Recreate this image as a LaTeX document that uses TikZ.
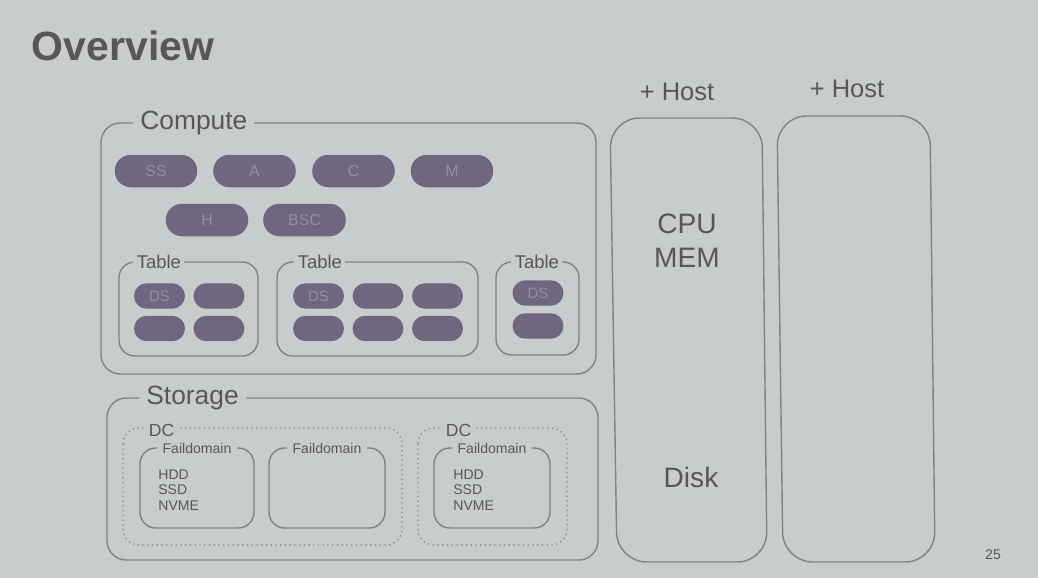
\documentclass[tikz,border=0pt]{standalone}
\usepackage{fontspec}
\setmainfont{Liberation Sans}
\usetikzlibrary{shapes.misc}

\definecolor{slidebg}{RGB}{201,204,205}
\definecolor{framegray}{RGB}{130,130,130}
\definecolor{textgray}{RGB}{88,86,86}
\definecolor{pillfill}{RGB}{111,102,128}
\definecolor{pilltext}{RGB}{150,142,164}

\tikzset{
  frame/.style={draw=framegray, line width=0.8pt, rounded corners=11pt},
  dcframe/.style={draw=framegray, line width=0.7pt, dotted, rounded corners=9pt},
  boxlabel/.style={fill=slidebg, text=textgray, inner xsep=4pt, inner ysep=1pt},
  pill/.style={rounded rectangle, fill=pillfill, text=pilltext, minimum width=47pt,
    minimum height=18.5pt, inner sep=0pt, font=\fontsize{9}{10}\selectfont},
  dspill/.style={pill, minimum width=29pt, minimum height=14.5pt,
    font=\fontsize{8.5}{10}\selectfont},
}

\begin{document}
\begin{tikzpicture}[x=0.02cm, y=-0.02cm]
    % Slide
    \fill [slidebg] (0,0) rectangle (1038,578);
    \useasboundingbox (0,0) rectangle (1038,578);
    \node [text=textgray, font=\fontsize{23.3}{27}\selectfont\bfseries] (title) at (123,46) {Overview};

    % Compute
    \draw [frame] (101,123) rectangle (596,374);
    \node [boxlabel, anchor=west, font=\fontsize{15}{18}\selectfont] (lcompute) at (133,123) {Compute};

    \node [pill] (ss) at (156,171) {SS};
    \node [pill] (a) at (254.5,171) {A};
    \node [pill] (c) at (353.5,171) {C};
    \node [pill] (m) at (452,171) {M};
    \node [pill] (h) at (207,220) {H};
    \node [pill] (bsc) at (304.5,220) {BSC};

    \draw [frame, rounded corners=9pt] (119,262) rectangle (258,356);
    \draw [frame, rounded corners=9pt] (277,262) rectangle (478,356);
    \draw [frame, rounded corners=9pt] (496,262) rectangle (579,355);
    \node [boxlabel, anchor=west, inner xsep=2pt, font=\fontsize{10.5}{12}\selectfont] (ltablea) at (133,262) {Table};
    \node [boxlabel, anchor=west, inner xsep=2pt, font=\fontsize{10.5}{12}\selectfont] (ltableb) at (294,262) {Table};
    \node [boxlabel, anchor=west, inner xsep=2pt, font=\fontsize{10.5}{12}\selectfont] (ltablec) at (511,262) {Table};

    \node [dspill] (dsa) at (159.5,296) {DS};
    \node [dspill] (ta2) at (219,296) {};
    \node [dspill] (ta3) at (159.5,328.5) {};
    \node [dspill] (ta4) at (219,328.5) {};
    \node [dspill] (dsb) at (318.5,296) {DS};
    \node [dspill] (tb2) at (378,296) {};
    \node [dspill] (tb3) at (437.5,296) {};
    \node [dspill] (tb4) at (318.5,328.5) {};
    \node [dspill] (tb5) at (378,328.5) {};
    \node [dspill] (tb6) at (437.5,328.5) {};
    \node [dspill] (dsc) at (538,293) {DS};
    \node [dspill] (tc2) at (538,326) {};

    % Storage
    \draw [frame] (107,398) rectangle (598,560);
    \node [boxlabel, anchor=west, font=\fontsize{15}{18}\selectfont] (lstorage) at (139,398) {Storage};

    \draw [dcframe] (123,428) rectangle (402,545);
    \draw [dcframe] (418,428) rectangle (567,545);
    \node [boxlabel, anchor=west, inner xsep=2pt, font=\fontsize{10}{12}\selectfont] (ldca) at (145,430) {DC};
    \node [boxlabel, anchor=west, inner xsep=2pt, font=\fontsize{10}{12}\selectfont] (ldcb) at (442,430) {DC};

    \draw [frame, rounded corners=9pt] (140,448) rectangle (254,528);
    \draw [frame, rounded corners=9pt] (269,448) rectangle (385,528);
    \draw [frame, rounded corners=9pt] (434,448) rectangle (550,528);
    \node [boxlabel, anchor=west, inner xsep=3pt, font=\fontsize{8}{9}\selectfont] (lfda) at (157,448) {Faildomain};
    \node [boxlabel, anchor=west, inner xsep=3pt, font=\fontsize{8}{9}\selectfont] (lfdb) at (287,448) {Faildomain};
    \node [boxlabel, anchor=west, inner xsep=3pt, font=\fontsize{8}{9}\selectfont] (lfdc) at (452,448) {Faildomain};

    \node [anchor=west, align=left, inner sep=0pt, text=textgray, font=\fontsize{8}{8.8}\selectfont] (disksa) at (158,490) {HDD\\SSD\\NVME};
    \node [anchor=west, align=left, inner sep=0pt, text=textgray, font=\fontsize{8}{8.8}\selectfont] (disksc) at (453,490) {HDD\\SSD\\NVME};

    % Hosts
    \draw [frame, rounded corners=17pt] (610,118) -- (762,118) -- (767,562) -- (617,562) -- cycle;
    \draw [frame, rounded corners=17pt] (777,116) -- (930,116) -- (935,562) -- (783,562) -- cycle;
    \node [text=textgray, font=\fontsize{14.5}{17}\selectfont] (hosta) at (677,92) {+ Host};
    \node [text=textgray, font=\fontsize{14.5}{17}\selectfont] (hostb) at (847,89) {+ Host};
    \node [align=center, text=textgray, font=\fontsize{16}{19.3}\selectfont] (cpumem) at (687,241) {CPU\\MEM};
    \node [text=textgray, font=\fontsize{16}{19}\selectfont] (disk) at (691,477) {Disk};

    \node [text=textgray, font=\fontsize{8}{9}\selectfont] (page) at (993,555) {25};

\end{tikzpicture}
\end{document}
